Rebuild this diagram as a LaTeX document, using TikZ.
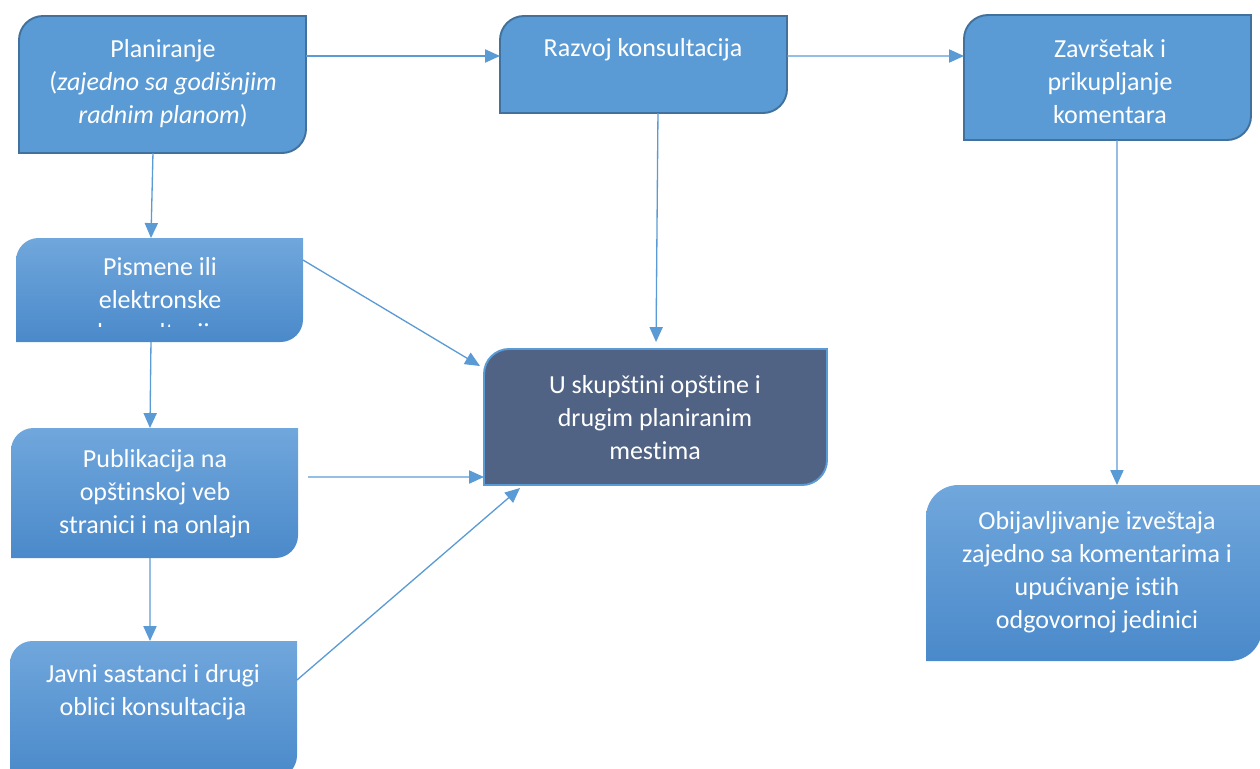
\documentclass[tikz,border=0pt]{standalone}
\usepackage{fontspec}
\setmainfont[Ligatures=NoCommon]{Carlito}
\usetikzlibrary{fit,calc,arrows.meta}

\definecolor{solidfill}{HTML}{5B9BD5}
\definecolor{solidedge}{HTML}{41719C}
\definecolor{gradtop}{HTML}{70A7DC}
\definecolor{gradbot}{HTML}{4A89CA}
\definecolor{darkfill}{HTML}{506384}
\definecolor{linkblue}{HTML}{5B9BD5}

\tikzset{
  frame/.style={inner sep=0pt, outer sep=0pt},
  solidbox/.style={fill=solidfill, draw=solidedge, line width=1.1pt},
  gradbox/.style={top color=gradtop, bottom color=gradbot, draw=none},
  darkbox/.style={fill=darkfill, draw=linkblue, line width=1.1pt},
  label/.style={text=white, align=center, font=\fontsize{14.8}{18.8}\selectfont, inner sep=0pt},
  link/.style={draw=linkblue, line width=0.75pt, -{Triangle[length=8.5pt,width=7.5pt]}},
}

% box with rounded top-left and bottom-right corners
% #1 node name, #2 style, #3 corner radius, #4 #5 top-left, #6 #7 bottom-right
\newcommand\diagcorner[7]{%
  \node[frame, fit={(#4,-#5) (#6,-#7)}] (#1) {};
  \path[#2] ($(#1.north west)+(#3,0)$) -- (#1.north east)
    -- ($(#1.south east)+(0,#3)$) arc[start angle=0,end angle=-90,radius=#3]
    -- (#1.south west)
    -- ($(#1.north west)+(0,-#3)$) arc[start angle=180,end angle=90,radius=#3]
    -- cycle;
}

\begin{document}
\begin{tikzpicture}[x=0.02cm,y=0.02cm]
\useasboundingbox (0,0) rectangle (1260,-768);
\clip (0,0) rectangle (1260,-768);

% top row
\diagcorner{plan}{solidbox}{0.48cm}{19}{16}{306}{153}
\diagcorner{raz}{solidbox}{0.48cm}{500}{16}{787}{113}
\diagcorner{zav}{solidbox}{0.48cm}{964}{15}{1251}{140}

% left column
\diagcorner{pis}{gradbox}{0.45cm}{16}{238}{303}{342}
\diagcorner{pub}{gradbox}{0.45cm}{11}{428}{298}{558}
\diagcorner{jav}{gradbox}{0.45cm}{10}{641}{297}{778}

% centre and right
\diagcorner{usk}{darkbox}{0.5cm}{484}{349}{827}{485}
\diagcorner{obj}{gradbox}{0.65cm}{926}{485}{1262}{661}

% texts
\node[label] (plantxt) at (163,-84) {Planiranje\\(\textit{zajedno sa godišnjim}\\\textit{radnim planom})};
\node[label] (raztxt) at (643,-50) {Razvoj konsultacija};
\node[label] (zavtxt) at (1110,-82) {Završetak i\\prikupljanje\\komentara};
\begin{scope}
  \clip (16,-238) rectangle (303,-326);
  \node[label] (pistxt) at (160,-302) {Pismene ili\\elektronske\\konsultacije};
\end{scope}
\node[label] (pubtxt) at (155,-494) {Publikacija na\\opštinskoj veb\\stranici i na onlajn};
\node[label] (javtxt) at (153,-692) {Javni sastanci i drugi\\oblici konsultacija};
\node[label] (usktxt) at (655,-418) {U skupštini opštine i\\drugim planiranim\\mestima};
\node[label] (objtxt) at (1097,-572) {Obijavljivanje izveštaja\\zajedno sa komentarima i\\upućivanje istih\\odgovornoj jedinici};

% connectors
\draw[link] ([yshift=-0.8cm]plan.north east) -- ([yshift=-0.8cm]raz.north west);
\draw[link] ([yshift=-0.8cm]raz.north east) -- ([yshift=-0.82cm]zav.north west);
\draw[link] ([xshift=2.68cm]plan.south west) -- ([xshift=2.7cm]pis.north west);
\draw[link] ([xshift=2.7cm]pis.south west) -- ([xshift=2.78cm]pub.north west);
\draw[link] ([xshift=2.78cm]pub.south west) -- ([xshift=2.8cm]jav.north west);
\draw[link, shorten >=0.14cm] ([xshift=3.16cm]raz.south west) -- ([xshift=3.44cm]usk.north west);
\draw[link] ([yshift=-0.44cm]pis.north east) -- ([xshift=-0.08cm,yshift=-0.34cm]usk.north west);
\draw[link] ([xshift=0.2cm,yshift=-0.98cm]pub.north east) -- ([yshift=0.16cm]usk.south west);
\draw[link] ([yshift=-0.78cm]jav.north east) -- ([xshift=0.72cm,yshift=-0.06cm]usk.south west);
\draw[link] ([xshift=3.06cm]zav.south west) -- ([xshift=3.82cm]obj.north west);
\end{tikzpicture}
\end{document}
